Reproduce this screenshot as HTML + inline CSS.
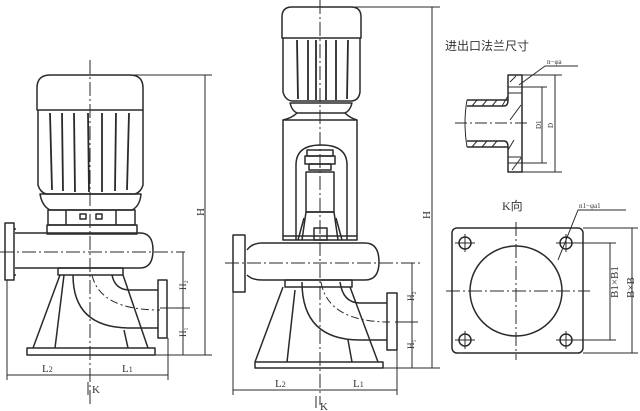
<!DOCTYPE html>
<html><head><meta charset="utf-8"><style>
html,body{margin:0;padding:0;background:#fff;}
svg{display:block}
text{font-family:"Liberation Serif","Noto Sans CJK SC",serif;fill:#333}
</style></head><body>
<svg width="640" height="411" viewBox="0 0 640 411" xmlns="http://www.w3.org/2000/svg">
<g fill="none" stroke="#2a2a2a" stroke-width="1.5" stroke-linejoin="round">
<!-- ===== LEFT PUMP ===== -->
<path d="M37,110 L37,88 Q37,75 50,75 L130,75 Q143,75 143,88 L143,110 Z"/>
<path d="M38,110 L38,185 Q40,192 46,194 L135,194 Q141,192 143,185 L143,110"/>
<g stroke-width="1.8">
<line x1="50" y1="113" x2="52" y2="190"/><line x1="62" y1="113" x2="63" y2="191"/>
<line x1="74" y1="113" x2="75" y2="192"/><line x1="88" y1="113" x2="89" y2="192"/>
<line x1="102" y1="113" x2="102" y2="192"/><line x1="116" y1="113" x2="115" y2="191"/>
<line x1="129" y1="113" x2="127" y2="190"/>
</g>
<path d="M40,194 L141,194 Q140,206 132,210 L50,210 Q42,206 40,194 Z"/>
<rect x="48" y="210" width="87" height="15"/>
<line x1="66" y1="210" x2="66" y2="225"/><line x1="116" y1="210" x2="116" y2="225"/>
<rect x="80" y="214" width="6" height="5"/><rect x="96" y="214" width="6" height="5"/>
<rect x="47" y="225" width="90" height="9"/>
<path d="M15,233 L140,233 Q153,233 153,250 Q153,268 140,268 L15,268"/>
<rect x="5" y="223" width="9" height="57"/><line x1="14" y1="229" x2="16" y2="229"/><line x1="14" y1="275" x2="16" y2="275"/>
<rect x="58" y="268" width="65" height="7"/>
<path d="M60,275 L33,348"/><path d="M64,275 L55,348"/>
<path d="M123,275 L148,348"/><path d="M124,330 L128,348"/>
<rect x="27" y="348" width="128" height="7"/>
<path d="M73,275 Q73,328 130,328 L158,328"/>
<path d="M112,275 Q115,290 130,290 L158,290"/>
<rect x="158" y="280" width="9" height="58"/>
<path d="M92,275 Q100,310 160,310" stroke-dasharray="8,3,2,3" stroke-width="1"/>
<line x1="90" y1="60" x2="90" y2="405" stroke-width="1" stroke-dasharray="14,3,2,3"/>
<line x1="0" y1="252" x2="185" y2="252" stroke-width="1" stroke-dasharray="14,3,2,3"/>
<line x1="130" y1="75" x2="212" y2="75" stroke-width="1"/>
<line x1="205" y1="75" x2="205" y2="355" stroke-width="1"/>
<line x1="155" y1="355" x2="212" y2="355" stroke-width="1"/>
<line x1="183" y1="252" x2="183" y2="355" stroke-width="1"/>
<line x1="160" y1="308" x2="190" y2="308" stroke-width="1"/>
<line x1="7" y1="280" x2="7" y2="380" stroke-width="1"/>
<line x1="168" y1="338" x2="168" y2="380" stroke-width="1"/>
<line x1="7" y1="375" x2="168" y2="375" stroke-width="1"/>
<line x1="88" y1="395" x2="88" y2="382" stroke-width="1"/>
<!-- ===== RIGHT PUMP ===== -->
<path d="M282,38 L282,17 Q282,7 292,7 L351,7 Q361,7 361,17 L361,38 Z"/>
<path d="M283,38 L283,92 Q285,100 292,101 L352,101 Q359,100 360,92 L360,38"/>
<g stroke-width="1.8">
<line x1="297" y1="40" x2="298" y2="99"/><line x1="308" y1="40" x2="308" y2="100"/>
<line x1="316" y1="40" x2="316" y2="100"/><line x1="326" y1="40" x2="326" y2="100"/>
<line x1="336" y1="40" x2="336" y2="100"/><line x1="348" y1="40" x2="347" y2="99"/>
</g>
<path d="M290,103 L352,103 Q350,111 345,113 L297,113 Q292,111 290,103 Z"/>
<path d="M297,113 Q292,118 283,120 M345,113 Q350,118 357,120"/>
<rect x="283" y="120" width="74" height="120"/>
<path d="M296,240 L296,165 Q296,145 321,145 Q347,145 347,165 L347,240"/>
<rect x="307" y="150" width="26" height="6"/><rect x="305" y="156" width="30" height="8"/><rect x="309" y="164" width="22" height="6"/>
<rect x="306" y="172" width="28" height="40"/>
<path d="M302,240 L306,212 L334,212 L338,240"/>
<path d="M298,240 L304,218 M342,240 L336,218"/>
<rect x="314" y="228" width="13" height="12"/>
<line x1="283" y1="236" x2="357" y2="236"/>
<path d="M247,250 Q252,243 262,243 L365,243 Q379,243 379,262 Q379,280 365,280 L262,280 Q252,280 247,275"/>
<rect x="233" y="235" width="12" height="57"/>
<rect x="285" y="280" width="67" height="7"/>
<path d="M283,287 L255,362"/><path d="M295,290 L287,362"/>
<path d="M350,287 L378,362"/><path d="M348,340 L352,362"/>
<rect x="255" y="362" width="128" height="6"/>
<path d="M302,282 Q302,340 360,340 L387,340"/>
<path d="M340,282 Q343,303 360,303 L387,303"/>
<rect x="387" y="293" width="10" height="57"/>
<path d="M321,282 Q328,322 390,322" stroke-dasharray="8,3,2,3" stroke-width="1"/>
<line x1="320" y1="0" x2="320" y2="405" stroke-width="1" stroke-dasharray="14,3,2,3"/>
<line x1="225" y1="263" x2="420" y2="263" stroke-width="1" stroke-dasharray="14,3,2,3"/>
<line x1="355" y1="7" x2="440" y2="7" stroke-width="1"/>
<line x1="432" y1="7" x2="432" y2="368" stroke-width="1"/>
<line x1="383" y1="368" x2="440" y2="368" stroke-width="1"/>
<line x1="412" y1="263" x2="412" y2="368" stroke-width="1"/>
<line x1="395" y1="322" x2="418" y2="322" stroke-width="1"/>
<line x1="233" y1="292" x2="233" y2="395" stroke-width="1"/>
<line x1="397" y1="350" x2="397" y2="395" stroke-width="1"/>
<line x1="233" y1="390" x2="397" y2="390" stroke-width="1"/>
<line x1="316" y1="408" x2="316" y2="396" stroke-width="1"/>
<!-- ===== FLANGE SECTION ===== -->
<path d="M467,100 L508,100 L508,75 L522,75 L522,172 L508,172 L508,147 L467,147"/>
<path d="M467,106 L504,106 Q508,106 508,100 M467,141 L504,141 Q508,141 508,147"/>
<path d="M467,100 Q463,123 467,147" stroke-width="1"/>
<g stroke-width="1">
<line x1="472" y1="106" x2="477" y2="100"/><line x1="482" y1="106" x2="487" y2="100"/><line x1="492" y1="106" x2="497" y2="100"/><line x1="502" y1="106" x2="508" y2="96"/>
<line x1="472" y1="147" x2="477" y2="141"/><line x1="482" y1="147" x2="487" y2="141"/><line x1="492" y1="147" x2="497" y2="141"/><line x1="508" y1="150" x2="514" y2="140"/>
<line x1="510" y1="82" x2="516" y2="76"/><line x1="510" y1="120" x2="521" y2="105"/><line x1="512" y1="170" x2="521" y2="158"/>
<line x1="508" y1="87" x2="522" y2="87"/><line x1="508" y1="93" x2="522" y2="93"/>
<line x1="508" y1="157" x2="522" y2="157"/><line x1="508" y1="163" x2="522" y2="163"/>
<line x1="455" y1="123" x2="530" y2="123" stroke-dasharray="12,3,2,3"/>
<line x1="522" y1="87" x2="547" y2="87"/><line x1="522" y1="163" x2="547" y2="163"/>
<line x1="542" y1="87" x2="542" y2="163"/>
<line x1="522" y1="75" x2="562" y2="75"/><line x1="522" y1="172" x2="562" y2="172"/>
<line x1="555" y1="75" x2="555" y2="172"/>
<path d="M519,85 L545,66 L578,66"/>
</g>
<!-- ===== K VIEW ===== -->
<rect x="452" y="228" width="131" height="125" rx="5"/>
<ellipse cx="516" cy="291" rx="46" ry="45"/>
<circle cx="465" cy="243" r="6"/><circle cx="566" cy="243" r="6"/>
<circle cx="465" cy="340" r="6"/><circle cx="566" cy="340" r="6"/>
<g stroke-width="1">
<line x1="516" y1="222" x2="516" y2="360" stroke-dasharray="14,3,2,3"/>
<line x1="446" y1="291" x2="590" y2="291" stroke-dasharray="14,3,2,3"/>
<line x1="455" y1="243" x2="475" y2="243"/><line x1="465" y1="234" x2="465" y2="252"/>
<line x1="556" y1="243" x2="616" y2="243"/><line x1="566" y1="234" x2="566" y2="252"/>
<line x1="455" y1="340" x2="475" y2="340"/><line x1="465" y1="331" x2="465" y2="349"/>
<line x1="556" y1="340" x2="616" y2="340"/><line x1="566" y1="331" x2="566" y2="349"/>
<line x1="610" y1="243" x2="610" y2="340"/>
<line x1="583" y1="228" x2="638" y2="228"/><line x1="583" y1="353" x2="638" y2="353"/>
<line x1="632" y1="228" x2="632" y2="353"/>
<path d="M558,260 L578,210 L626,210"/>
</g>
</g>
<g font-size="11">
<text x="196" y="216" transform="rotate(-90 200 212)">H</text>
<text x="422" y="219" transform="rotate(-90 426 215)">H</text>
<text x="178" y="290" font-size="9" transform="rotate(-90 182 286)">H₂</text>
<text x="178" y="337" font-size="9" transform="rotate(-90 182 333)">H₁</text>
<text x="406" y="301" font-size="9" transform="rotate(-90 410 297)">H₂</text>
<text x="406" y="349" font-size="9" transform="rotate(-90 410 345)">H₁</text>
<text x="42" y="372">L<tspan font-size="8">2</tspan></text>
<text x="122" y="372">L<tspan font-size="8">1</tspan></text>
<text x="92" y="393">K</text>
<text x="275" y="387">L<tspan font-size="8">2</tspan></text>
<text x="353" y="387">L<tspan font-size="8">1</tspan></text>
<text x="320" y="410">K</text>
<text x="445" y="50" font-family="Liberation Sans,Noto Sans CJK SC,sans-serif" font-size="12">进出口法兰尺寸</text>
<text x="547" y="64" font-size="7">n−φa</text>
<text x="502" y="210" font-family="Liberation Sans,Noto Sans CJK SC,sans-serif" font-size="12">K向</text>
<text x="579" y="208" font-size="7">n1−φa1</text>
<text x="533" y="129" font-size="7" transform="rotate(-90 537 125)">D1</text>
<text x="546" y="127" font-size="7" transform="rotate(-90 550 124)">D</text>
<text x="596" y="308" font-size="11" transform="rotate(-90 602 292)">B1×B1</text>
<text x="618" y="302" font-size="11" transform="rotate(-90 624 292)">B×B</text>
</g>
</svg>
</body></html>
